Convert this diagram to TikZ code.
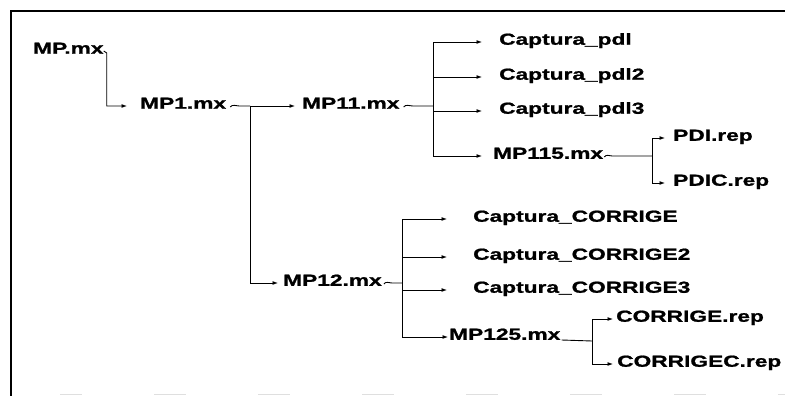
\documentclass[tikz,border=0pt]{standalone}
\usepackage{fontspec}
\newfontfamily\wide[FakeStretch=1.42, BoldFeatures={FakeBold=1.2}]{Liberation Sans}
\usetikzlibrary{arrows.meta}
\tikzset{
  lbl/.style={font=\wide\bfseries\fontsize{16pt}{19pt}\selectfont, inner sep=0pt, text height=11.5pt, text depth=6pt, anchor=west},
  line/.style={line width=0.9pt},
  conn/.style={line width=0.9pt, -{Latex[length=5.5pt,width=4pt]}},
  frame/.style={line width=2.4pt},
}
\begin{document}
\begin{tikzpicture}[x=1pt,y=-1pt]
\useasboundingbox (0,0) rectangle (785,396);
% frame
\draw[frame] (785,11) -- (11,11) -- (11,396);
\draw[gray!25, line width=1pt, dash pattern=on 32pt off 72pt, dash phase=10pt] (60,394) -- (785,394);

% nodes
\node[lbl] (mp)    at (33,51)   {MP.mx};
\node[lbl] (mp1)   at (140,106) {MP1.mx};
\node[lbl] (mp11)  at (302,106) {MP11.mx};
\node[lbl] (mp12)  at (283,283) {MP12.mx};
\node[lbl] (cp1)   at (499,42)  {Captura\_pdl};
\node[lbl] (cp2)   at (499,77)  {Captura\_pdl2};
\node[lbl] (cp3)   at (499,111) {Captura\_pdl3};
\node[lbl] (mp115) at (493,156) {MP115.mx};
\node[lbl] (pdi)   at (673,138) {PDI.rep};
\node[lbl] (pdic)  at (673,183) {PDIC.rep};
\node[lbl] (cc1)   at (473,219) {Captura\_CORRIGE};
\node[lbl] (cc2)   at (473,257) {Captura\_CORRIGE2};
\node[lbl] (cc3)   at (473,290) {Captura\_CORRIGE3};
\node[lbl] (mp125) at (449,337) {MP125.mx};
\node[lbl] (cr)    at (616,319) {CORRIGE.rep};
\node[lbl] (crc)   at (617,364) {CORRIGEC.rep};

% junctions
\coordinate (j1)   at (250,106);
\coordinate (j11)  at (433,106);
\coordinate (j115) at (652,156);
\coordinate (j12)  at (402,283);
\coordinate (j125) at (592,341);

% MP.mx -> MP1.mx
\draw[conn, shorten >=13pt] (mp.east) -- ++(3,2) |- (mp1.west);

% MP1.mx -> MP11.mx / MP12.mx
\draw[line] (mp1.east) ++(4,1) .. controls +(2,-3) and +(-3,0) .. ++(9,-1) -- (j1);
\draw[conn, shorten >=7pt] (j1) -- (mp11.west);
\draw[conn, shorten >=5pt] (j1) |- (mp12.west);

% MP11.mx -> children
\draw[line] (mp11.east) ++(4,1) .. controls +(2,-3) and +(-3,0) .. ++(9,-1) -- (j11);
\draw[conn, shorten >=17pt] (j11) |- (cp1.west);
\draw[conn, shorten >=17pt] (j11) |- (cp2.west);
\draw[conn, shorten >=17pt] (j11) |- (cp3.west);
\draw[conn, shorten >=11pt] (j11) |- (mp115.west);

% MP115.mx -> children
\draw[line] (mp115.east) ++(1,1) .. controls +(2,-3) and +(-3,0) .. ++(8,-1) -- (j115);
\draw[conn, shorten >=8pt] (j115) |- (pdi.west);
\draw[conn, shorten >=8pt] (j115) |- (pdic.west);

% MP12.mx -> children
\draw[line] (mp12.east) ++(2,1) .. controls +(2,-3) and +(-3,0) .. ++(8,-1) -- (j12);
\draw[conn, shorten >=26pt] (j12) |- (cc1.west);
\draw[conn, shorten >=26pt] (j12) |- (cc2.west);
\draw[conn, shorten >=26pt] (j12) |- (cc3.west);
\draw[conn, shorten >=1pt] (j12) |- (mp125.west);

% MP125.mx -> children
\draw[line] (mp125.east) ++(1,3) -- (j125);
\draw[conn, shorten >=3pt] (j125) |- (cr.west);
\draw[conn, shorten >=4pt] (j125) |- (crc.west);
\end{tikzpicture}
\end{document}
